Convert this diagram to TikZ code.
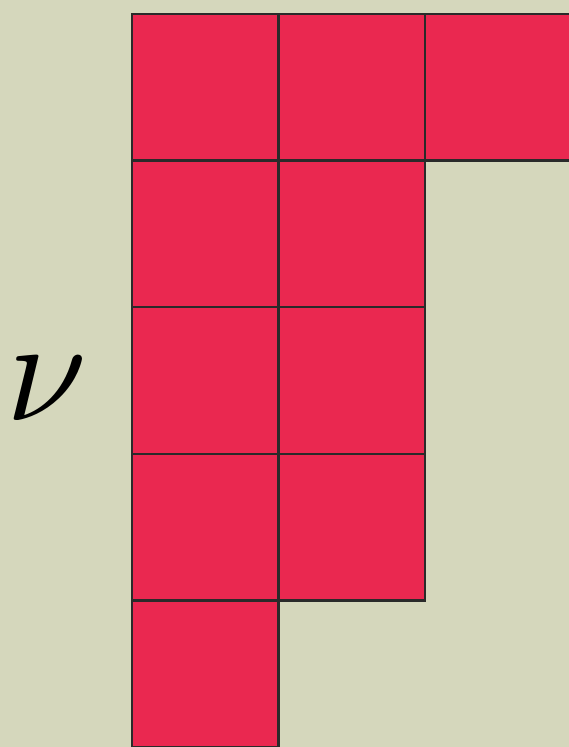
\documentclass[tikz,border=0pt]{standalone}
\definecolor{bgc}{HTML}{D5D7BC}
\definecolor{cellred}{HTML}{EA2850}
\definecolor{edge}{HTML}{2A2A2A}
\begin{document}
\begin{tikzpicture}[x=1pt,y=-1pt,
  cell/.style={fill=cellred,draw=edge,line width=2.4pt}]
\useasboundingbox (0,0) rectangle (569,747);
\fill[bgc] (0,0) rectangle (569,747);
\def\s{146.6}
% row 1
\foreach \c in {0,1,2} \draw[cell] (132+\c*\s,14) rectangle +(\s,\s);
% rows 2-4
\foreach \r in {1,2,3} \foreach \c in {0,1} \draw[cell] (132+\c*\s,14+\r*\s) rectangle +(\s,\s);
% row 5
\draw[cell] (132,14+4*\s) rectangle +(\s,\s);
\node[xscale=14.5,yscale=14.8,inner sep=0] (nu) at (47,389) {$\nu$};
\end{tikzpicture}
\end{document}
